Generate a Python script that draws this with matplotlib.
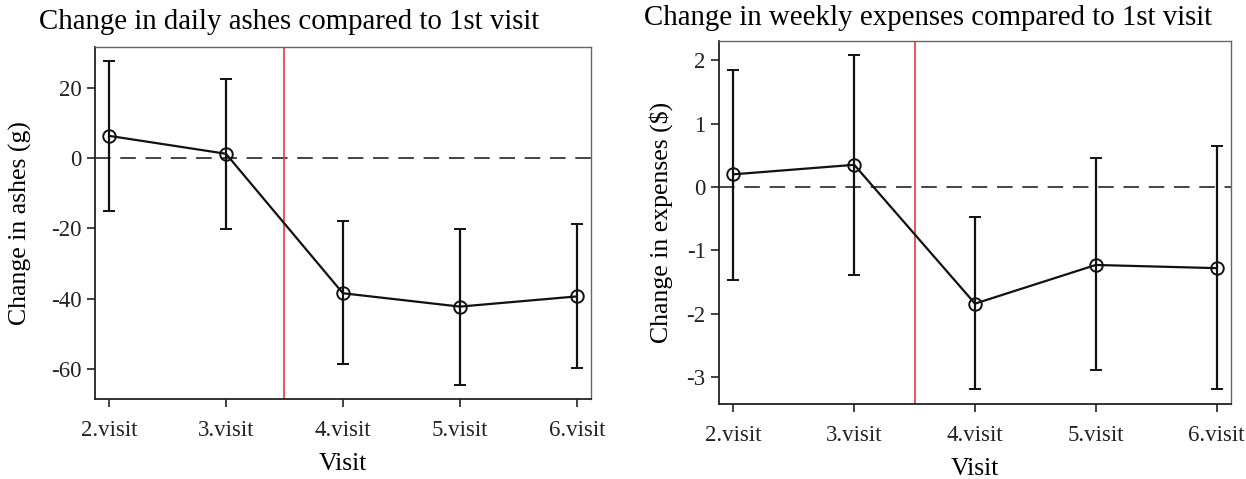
import numpy as np
import matplotlib.pyplot as plt

plt.rcParams['font.family'] = ['Liberation Serif', 'DejaVu Serif']
plt.rcParams['axes.unicode_minus'] = False

visits = ['2.visit', '3.visit', '4.visit', '5.visit', '6.visit']

# daily ashes (g)
ash_mean = [6.3, 1.2, -38.5, -42.3, -39.4]
ash_lo = [-15.1, -20.1, -58.7, -64.6, -59.9]
ash_hi = [27.7, 22.5, -17.9, -20.2, -18.9]

# weekly expenses ($)
exp_mean = [0.2, 0.35, -1.84, -1.23, -1.28]
exp_lo = [-1.46, -1.39, -3.18, -2.89, -3.19]
exp_hi = [1.85, 2.08, -0.47, 0.46, 0.64]

fig = plt.figure(figsize=(12.46, 4.79), dpi=100)
ax1 = fig.add_axes([0.0762, 0.167, 0.398, 0.735])
ax2 = fig.add_axes([0.577, 0.157, 0.411, 0.757])


def panel(ax, mean, lo, hi, ylim, yticks, ylabel, ylpad):
    x = np.arange(2, 7)
    mean = np.array(mean)
    yerr = [mean - np.array(lo), np.array(hi) - mean]
    ax.axhline(0, color='#444444', lw=1.4, ls=(0, (8, 5)), zorder=1)
    ax.axvline(3.5, color='#e8383d', lw=1.2, zorder=1)
    ax.errorbar(x, mean, yerr=yerr, color='#111111', lw=1.6, capsize=4.5,
                capthick=1.6, elinewidth=1.6, marker='o', ms=9,
                mfc='none', mec='#111111', mew=1.4, zorder=3)
    ax.set_xlim(1.88, 6.12)
    ax.set_ylim(*ylim)
    ax.set_xticks(x)
    ax.set_xticklabels(visits)
    ax.set_yticks(yticks)
    ax.set_xlabel('Visit', fontsize=18.5, labelpad=9)
    ax.set_ylabel(ylabel, fontsize=18.5, labelpad=ylpad)
    ax.tick_params(labelsize=16.5, length=6, width=1.2, color='#222222',
                   labelcolor='#222222')
    ax.tick_params(axis='x', pad=9)
    for s in ['left', 'bottom']:
        ax.spines[s].set_linewidth(1.3)
        ax.spines[s].set_color('#222222')
    for s in ['top', 'right']:
        ax.spines[s].set_linewidth(1.0)
        ax.spines[s].set_color('#666666')


panel(ax1, ash_mean, ash_lo, ash_hi, (-68.6, 31.6), [20, 0, -20, -40, -60],
      'Change in ashes (g)', 14)
panel(ax2, exp_mean, exp_lo, exp_hi, (-3.42, 2.30), [2, 1, 0, -1, -2, -3],
      'Change in expenses ($)', 10)

fig.text(289 / 1246, 1 - 22 / 479, 'Change in daily ashes compared to 1st visit',
         ha='center', va='center', fontsize=20.8)
fig.text(928 / 1246, 1 - 18 / 479, 'Change in weekly expenses compared to 1st visit',
         ha='center', va='center', fontsize=20.8)

fig.savefig('out.png', dpi=100)
